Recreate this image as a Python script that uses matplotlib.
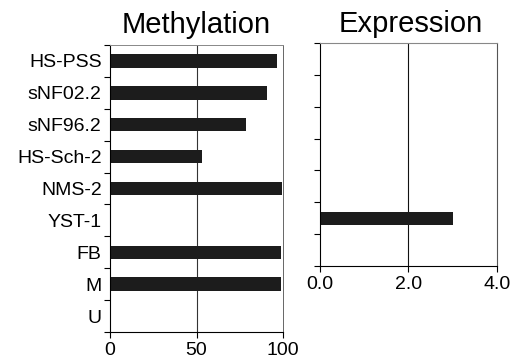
import numpy as np
import matplotlib.pyplot as plt

plt.rcParams['font.family'] = ['Liberation Sans', 'DejaVu Sans']

## data
cells = ['HS-PSS', 'sNF02.2', 'sNF96.2', 'HS-Sch-2', 'NMS-2', 'YST-1', 'FB', 'M', 'U']
methylation = [96.7, 90.8, 78.8, 53.3, 99.4, 0, 99.0, 98.7, 0]
expr_cells = ['HS-PSS', 'sNF02.2', 'sNF96.2', 'HS-Sch-2', 'NMS-2', 'YST-1', 'FB']
expression = [0, 0, 0, 0, 0, 3.0, 0]

bar_col = '#1c1c1c'

fig = plt.figure(figsize=(5.12, 3.62), dpi=100)

## Methylation panel
ax1 = fig.add_axes([0.2148, 0.0829, 0.338, 0.7928])
pos = np.arange(len(cells))
ax1.barh(pos, methylation, height=0.42, color=bar_col)
ax1.set_xlim(0, 100)
ax1.set_ylim(len(cells) - 0.5, -0.5)
ax1.axvline(50, color='#333333', lw=0.8, zorder=0)
ax1.set_xticks([0, 50, 100])
ax1.set_yticks(np.arange(len(cells) + 1) - 0.5)
ax1.set_yticklabels([])
ax1.set_yticks(pos, minor=True)
ax1.set_yticklabels(cells, minor=True, fontsize=14)
ax1.tick_params(axis='y', which='minor', length=0, pad=6)
ax1.tick_params(axis='y', which='major', length=4, width=0.8)
ax1.tick_params(axis='x', length=4, width=0.8, labelsize=14, pad=3)
for s in ['left', 'bottom']:
    ax1.spines[s].set_linewidth(0.8)
ax1.spines['top'].set_color('#888888')
ax1.spines['right'].set_color('#666666')
ax1.spines['top'].set_linewidth(0.7)
ax1.spines['right'].set_linewidth(0.7)

## Expression panel
ax2 = fig.add_axes([0.625, 0.2652, 0.3457, 0.616])
pos2 = np.arange(len(expr_cells))
ax2.barh(pos2, expression, height=0.42, color=bar_col)
ax2.set_xlim(0, 4)
ax2.set_ylim(len(expr_cells) - 0.5, -0.5)
ax2.axvline(2, color='#111111', lw=0.8, zorder=0)
ax2.set_xticks([0, 2, 4])
ax2.set_xticklabels(['0.0', '2.0', '4.0'])
ax2.set_yticks(np.arange(len(expr_cells) + 1) - 0.5)
ax2.set_yticklabels([])
ax2.tick_params(axis='y', length=4, width=0.8)
ax2.tick_params(axis='x', length=4, width=0.8, labelsize=14, pad=3)
for s in ax2.spines.values():
    s.set_linewidth(0.8)
ax2.spines['top'].set_color('#888888')
ax2.spines['right'].set_color('#555555')

fig.text(0.383, 0.909, 'Methylation', ha='center', va='baseline', fontsize=21)
fig.text(0.803, 0.912, 'Expression', ha='center', va='baseline', fontsize=21)

fig.savefig('out.png', dpi=100)
